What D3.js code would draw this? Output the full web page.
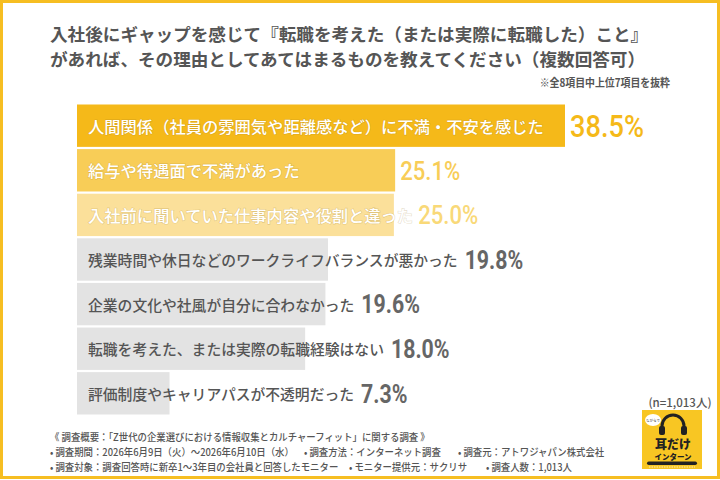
<!DOCTYPE html>
<html><head><meta charset="utf-8">
<script src="https://cdn.jsdelivr.net/npm/d3@7"></script>
<style>
html,body{margin:0;padding:0;background:#fff;}
svg{display:block;}
text{font-family:"Noto Sans CJK JP","Noto Sans",sans-serif;}
.num{font-family:"Roboto","Noto Sans",sans-serif;}
</style></head>
<body>
<svg id="chart" width="720" height="480"></svg>
<script>
const categories = [
  "人間関係（社員の雰囲気や距離感など）に不満・不安を感じた",
  "給与や待遇面で不満があった",
  "入社前に聞いていた仕事内容や役割と違った",
  "残業時間や休日などのワークライフバランスが悪かった",
  "企業の文化や社風が自分に合わなかった",
  "転職を考えた、または実際の転職経験はない",
  "評価制度やキャリアパスが不透明だった"
];
const values = [38.5, 25.1, 25.0, 19.8, 19.6, 18.0, 7.3];
const barColors = ["#F5B919", "#F8CD57", "#FBE09A", "#E3E3E3", "#E3E3E3", "#E3E3E3", "#E3E3E3"];
const valueColors = ["#F5B919", "#F8CD57", "#F9D978", "#666666", "#666666", "#666666", "#666666"];
const labelColors = ["#FFFFFF", "#FFFFFF", "#FFFFFF", "#555555", "#555555", "#555555", "#555555"];
const titleLines = [
  "入社後にギャップを感じて『転職を考えた（または実際に転職した）こと』",
  "があれば、その理由としてあてはまるものを教えてください（複数回答可）"
];
const footnote = "※全8項目中上位7項目を抜粋";
const sampleNote = "(n=1,013人)";
const surveyLines = [
  [{t:"《 調査概要：「Z世代の企業選びにおける情報収集とカルチャーフィット」に関する調査 》", x:50}],
  [{t:"• 調査期間：2026年6月9日（火）〜2026年6月10日（水）", x:50},
   {t:"• 調査方法：インターネット調査", x:304},
   {t:"• 調査元：アトワジャパン株式会社", x:458}],
  [{t:"• 調査対象：調査回答時に新卒1〜3年目の会社員と回答したモニター", x:50},
   {t:"• モニター提供元：サクリサ", x:349},
   {t:"• 調査人数：1,013人", x:486}]
];

const svg = d3.select("#chart");

// border
svg.append("rect").attr("x",1.5).attr("y",1.5).attr("width",717).attr("height",476)
  .attr("fill","none").attr("stroke","#F6BE22").attr("stroke-width",3);

// title
svg.selectAll("text.title").data(titleLines).join("text")
  .attr("class","title")
  .attr("x",50).attr("y",(d,i)=>33+i*25.5)
  .attr("dominant-baseline","central")
  .attr("font-size",17.6).attr("font-weight",700).attr("fill","#555")
  .text(d=>d);

svg.append("text").attr("transform","translate(670,82) scale(0.9,1)").attr("text-anchor","end")
  .attr("dominant-baseline","central")
  .attr("font-size",11).attr("font-weight",700).attr("fill","#555")
  .text(footnote);

// scales
const x = d3.scaleLinear().domain([0,40]).range([77,584]);
const y = d3.scaleBand().domain(categories).range([104.5,414.5]).paddingInner(0.05);

const rows = categories.map((c,i)=>({c, v:values[i], i}));

svg.selectAll("rect.bar").data(rows).join("rect")
  .attr("class","bar")
  .attr("x",x(0)).attr("y",d=>y(d.c))
  .attr("width",d=>x(d.v)-x(0)).attr("height",y.bandwidth())
  .attr("fill",d=>barColors[d.i]);

const labels = svg.selectAll("text.lab").data(rows).join("text")
  .attr("class","lab")
  .attr("x",x(0)+11).attr("y",d=>y(d.c)+y.bandwidth()/2)
  .attr("dominant-baseline","central")
  .attr("font-size",d=>d.i<3?16.3:14.8).attr("font-weight",500)
  .attr("fill",d=>labelColors[d.i])
  .attr("stroke",d=>d.i<3?"rgba(150,120,40,0.25)":"none")
  .attr("stroke-width",1.2)
  .attr("paint-order","stroke")
  .text(d=>d.c);

const ends = [];
labels.each(function(d){ ends[d.i] = x(0)+11+this.getComputedTextLength(); });

svg.selectAll("text.val").data(rows).join("text")
  .attr("class","val num")
  .attr("transform",d=>{
    const fs = d.i===0?32:26;
    const yy = y(d.c)+y.bandwidth()/2 + fs*0.711/2;
    const xx = Math.max(x(d.v), ends[d.i]) + (d.i<3?5:7);
    return `translate(${xx},${yy}) scale(${d.i<3?0.85:0.82},1)`;
  })
  .attr("font-size",d=>d.i===0?32:26).attr("font-weight",d=>d.i<3?500:700)
  .attr("fill",d=>valueColors[d.i])
  .text(d=>d.v.toFixed(1)+"%");

// n note
svg.append("text").attr("x",680).attr("y",402).attr("text-anchor","middle")
  .attr("dominant-baseline","central")
  .attr("font-size",11.5).attr("font-weight",500).attr("fill","#555")
  .text(sampleNote);

// survey notes
surveyLines.forEach((line,li)=>{
  line.forEach(seg=>{
    svg.append("text")
      .attr("transform",`translate(${seg.x},${437+li*15}) scale(0.94,1)`)
      .attr("dominant-baseline","central")
      .attr("font-size",10).attr("font-weight",500).attr("fill","#555")
      .text(seg.t);
  });
});

// logo
const g = svg.append("g").attr("transform","translate(642,410)");
g.append("rect").attr("width",60).attr("height",59).attr("fill","#F8C623");
// headphones
g.append("path").attr("d","M20,23 L20,16 A11,11 0 0 1 42,16 L42,23")
  .attr("fill","none").attr("stroke","#222").attr("stroke-width",3);
g.append("rect").attr("x",17).attr("y",16).attr("width",6).attr("height",9).attr("rx",2).attr("fill","#222");
g.append("rect").attr("x",39).attr("y",16).attr("width",6).attr("height",9).attr("rx",2).attr("fill","#222");
g.append("ellipse").attr("cx",11).attr("cy",10).attr("rx",8).attr("ry",6).attr("fill","#fff");
g.append("text").attr("x",11).attr("y",10).attr("text-anchor","middle").attr("dominant-baseline","central")
  .attr("font-size",3.5).attr("fill","#333").text("ながらで");
g.append("text").attr("x",31).attr("y",33).attr("text-anchor","middle").attr("dominant-baseline","central")
  .attr("font-size",12).attr("font-weight",900).attr("fill","#222").text("耳だけ");
g.append("text").attr("x",31).attr("y",46.5).attr("text-anchor","middle").attr("dominant-baseline","central")
  .attr("font-size",7.5).attr("font-weight",900).attr("fill","#222").text("インターン");
g.append("rect").attr("x",5).attr("y",51.5).attr("width",50).attr("height",3.5).attr("rx",1.7).attr("fill","#222");
g.append("line").attr("x1",7).attr("x2",53).attr("y1",57).attr("y2",57)
  .attr("stroke","#fff").attr("stroke-width",0.7).attr("stroke-dasharray","1.5,1");
</script>
</body></html>
